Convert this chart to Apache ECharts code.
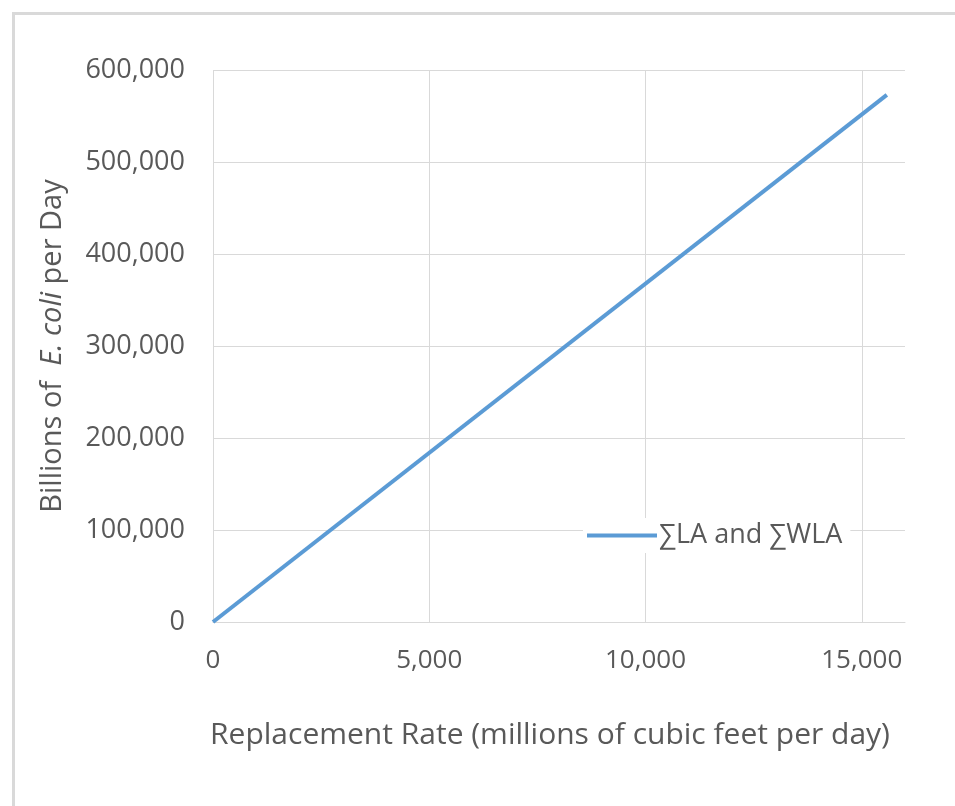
<!DOCTYPE html>
<html>
<head>
<meta charset="utf-8">
<script src="https://cdn.jsdelivr.net/npm/echarts@6/dist/echarts.min.js"></script>
<style>
html,body{margin:0;padding:0;background:#fff;}
#chart{width:955px;height:806px;}
</style>
</head>
<body>
<div id="chart"></div>
<script>
// Data
const seriesName = '\u2211LA and \u2211WLA';
const replacementRate = [0, 15580];          // millions of cubic feet per day
const ecoliLoad = [0, 573000];               // billions of E. coli per day
const xTicks = { min: 0, max: 16000, interval: 5000 };
const yTicks = { min: 0, max: 600000, interval: 100000 };

const points = replacementRate.map((x, i) => [x, ecoliLoad[i]]);
const FONT = '"Open Sans", sans-serif';
const TXT = '#595959';
const fmt = v => v.toLocaleString('en-US');

const chart = echarts.init(document.getElementById('chart'));
chart.setOption({
  backgroundColor: '#ffffff',
  animation: false,
  textStyle: { fontFamily: FONT, color: TXT },
  graphic: [{
    type: 'rect', z: -10, silent: true,
    shape: { x: 13.5, y: 13.5, width: 1200, height: 1200 },
    style: { fill: 'none', stroke: '#d9d9d9', lineWidth: 3 }
  }],
  grid: { left: 213, top: 70, right: 50, bottom: 184, containLabel: false },
  legend: {
    data: [{ name: seriesName, icon: 'path://M0,0 L70,0 L70,4 L0,4 Z' }],
    left: 583, top: 518,
    itemWidth: 70, itemHeight: 4, itemGap: 0,
    backgroundColor: '#ffffff',
    padding: [4, 8, 4, 4],
    textStyle: { fontFamily: FONT, fontSize: 27, color: TXT, padding: [0, 0, 0, -3] }
  },
  xAxis: {
    type: 'value',
    min: xTicks.min, max: xTicks.max, interval: xTicks.interval,
    name: 'Replacement Rate (millions of cubic feet per day)',
    nameLocation: 'middle', nameGap: 98,
    nameTextStyle: { fontFamily: FONT, fontSize: 30, color: TXT, padding: [0, 18, 0, 0] },
    axisLine: { show: true, lineStyle: { color: '#d9d9d9', width: 1 } },
    axisTick: { show: false },
    axisLabel: { fontFamily: FONT, fontSize: 26, color: TXT, margin: 26, showMaxLabel: false, formatter: fmt },
    splitLine: { show: true, showMaxLine: false, lineStyle: { color: '#d9d9d9', width: 1 } }
  },
  yAxis: {
    type: 'value',
    min: yTicks.min, max: yTicks.max, interval: yTicks.interval,
    name: 'Billions of  {i|E. coli} per Day',
    nameLocation: 'middle', nameGap: 146,
    nameTextStyle: {
      fontFamily: FONT, fontSize: 29, color: TXT,
      rich: { i: { fontFamily: FONT, fontSize: 29, color: TXT, fontStyle: 'italic' } }
    },
    axisLine: { show: false },
    axisTick: { show: false },
    axisLabel: { fontFamily: FONT, fontSize: 27, color: TXT, margin: 28, formatter: fmt },
    splitLine: { show: true, lineStyle: { color: '#d9d9d9', width: 1 } }
  },
  series: [{
    name: seriesName,
    type: 'line',
    data: points,
    showSymbol: false,
    symbol: 'none',
    lineStyle: { color: '#5b9bd5', width: 4 },
    itemStyle: { color: '#5b9bd5' }
  }]
});
</script>
</body>
</html>
